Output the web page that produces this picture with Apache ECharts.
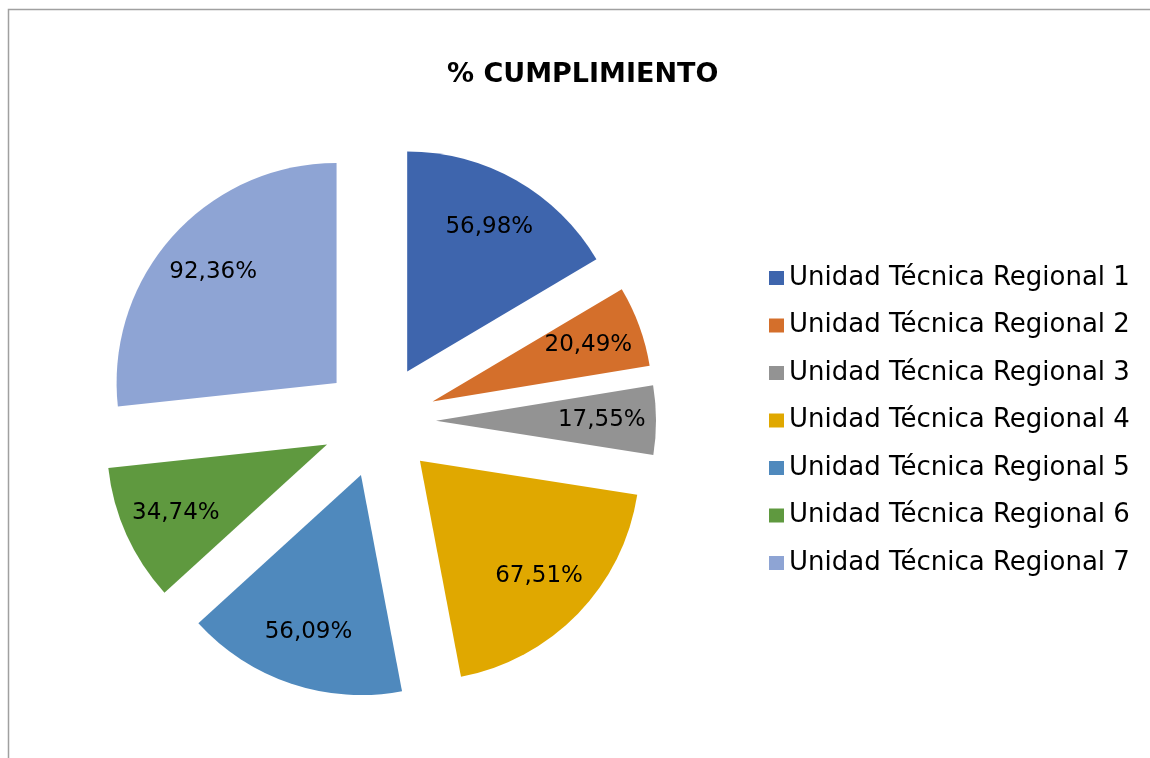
<!DOCTYPE html>
<html>
<head>
<meta charset="utf-8">
<script src="https://cdn.jsdelivr.net/npm/echarts@6/dist/echarts.min.js"></script>
<style>
  html, body { margin: 0; padding: 0; background: #fff; }
  #chart { width: 1150px; height: 758px; }
</style>
</head>
<body>
<div id="chart"></div>
<script>
// datos
const categories = [
  "Unidad Técnica Regional 1",
  "Unidad Técnica Regional 2",
  "Unidad Técnica Regional 3",
  "Unidad Técnica Regional 4",
  "Unidad Técnica Regional 5",
  "Unidad Técnica Regional 6",
  "Unidad Técnica Regional 7"
];
const values = [56.98, 20.49, 17.55, 67.51, 56.09, 34.74, 92.36];
const colors = ["#3e65ad", "#d46f2b", "#939393", "#e0a800", "#4f89bd", "#5f993f", "#8ea4d4"];

const FONT = "DejaVu Sans";
const CENTER = [379, 421];
const R = 220;
const OFFSET = 57;

const fmt = (v) => v.toFixed(2).replace(".", ",") + "%";

const pieData = categories.map((name, i) => ({
  name, value: values[i], selected: true,
  itemStyle: { color: colors[i] }
}));

const chart = echarts.init(document.getElementById("chart"), null, { renderer: "canvas" });
chart.setOption({
  backgroundColor: "#fff",
  animation: false,
  title: {
    text: "% CUMPLIMIENTO",
    left: 442, top: 56,
    textStyle: { fontFamily: FONT, fontSize: 27, fontWeight: "bold", color: "#000" }
  },
  legend: {
    orient: "vertical",
    left: 764, top: 260,
    itemWidth: 15, itemHeight: 14, itemGap: 21.5,
    icon: "rect",
    selectedMode: false,
    data: categories,
    textStyle: { fontFamily: FONT, fontSize: 26, color: "#000", lineHeight: 26 }
  },
  // marco gris del área del gráfico (bordes derecho/inferior fuera de la captura)
  graphic: [{
    type: "rect", silent: true,
    shape: { x: 8.5, y: 9.5, width: 1400, height: 1000 },
    style: { fill: "none", stroke: "#a0a0a0", lineWidth: 1.5 }
  }],
  series: [
    {
      // sectores visibles, todos separados
      type: "pie",
      center: CENTER, radius: R,
      startAngle: 90, clockwise: true,
      selectedMode: "multiple", selectedOffset: OFFSET,
      label: { show: false }, labelLine: { show: false },
      emphasis: { disabled: true },
      data: pieData
    },
    {
      // anillo transparente solo para colocar etiquetas a ~0.74 del radio
      type: "pie",
      center: CENTER, radius: [R * 0.48, R],
      startAngle: 90, clockwise: true,
      selectedMode: "multiple", selectedOffset: OFFSET,
      silent: true,
      emphasis: { disabled: true },
      itemStyle: { color: "rgba(0,0,0,0)" },
      label: {
        show: true, position: "inside",
        fontFamily: FONT, fontSize: 23, color: "#000",
        formatter: (p) => fmt(p.value)
      },
      labelLine: { show: false },
      data: pieData.map((d) => ({ name: d.name, value: d.value, selected: true }))
    }
  ]
});
</script>
</body>
</html>
